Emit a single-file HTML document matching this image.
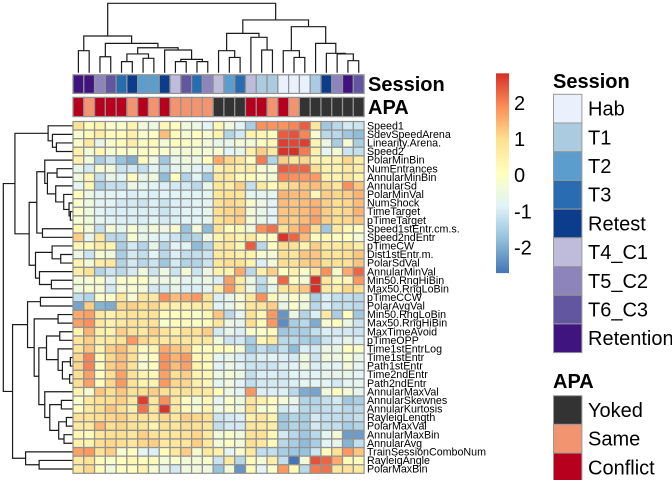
<!DOCTYPE html>
<html lang="en">
<head>
<meta charset="utf-8">
<title>Clustered heatmap</title>
<style>
html,body{margin:0;padding:0;background:#fff;width:672px;height:480px;overflow:hidden}
svg{display:block;font-family:"Liberation Sans",Arial,sans-serif}
.row-label{font-size:10.7px;fill:#000}
.legend-text{font-size:20px;fill:#000}
.legend-title{font-size:20px;font-weight:bold;fill:#000}
</style>
</head>
<body>
<svg id="chart" width="672" height="480" viewBox="0 0 672 480" xmlns="http://www.w3.org/2000/svg">
  <g id="col-dendro"></g>
  <g id="row-dendro"></g>
  <g id="annotations"></g>
  <text class="legend-title" x="368" y="91">Session</text>
  <text class="legend-title" x="368" y="114">APA</text>
  <g id="heatmap"></g>
  <g id="row-labels"></g>
  <g id="colorbar"></g>
  <text class="legend-title" x="553" y="88">Session</text>
  <g id="session-legend"></g>
  <text class="legend-title" x="553" y="388">APA</text>
  <g id="apa-legend"></g>
</svg>
<script>
const rowLabels = ["Speed1","SdevSpeedArena","Linearity.Arena.","Speed2","PolarMinBin","NumEntrances","AnnularMinBin","AnnularSd","PolarMinVal","NumShock","TimeTarget","pTimeTarget","Speed1stEntr.cm.s.","Speed2ndEntr","pTimeCW","Dist1stEntr.m.","PolarSdVal","AnnularMinVal","Min50.RngHiBin","Max50.RngLoBin","pTimeCCW","PolarAvgVal","Min50.RngLoBin","Max50.RngHiBin","MaxTimeAvoid","pTimeOPP","Time1stEntrLog","Time1stEntr","Path1stEntr","Time2ndEntr","Path2ndEntr","AnnularMaxVal","AnnularSkewnes","AnnularKurtosis","RayleigLength","PolarMaxVal","AnnularMaxBin","AnnularAvg","TrainSessionComboNum","RayleigAngle","PolarMaxBin"];
const sessionByColumn = ["Retention","Retention","T5_C2","T6_C3","T3","Retest","T2","T2","Retest","T4_C1","T6_C3","T3","T5_C2","T4_C1","T2","T3","T4_C1","T1","T1","Hab","Hab","Hab","T1","Retest","T5_C2","Retention","T6_C3"];
const apaByColumn = ["Conflict","Same","Conflict","Conflict","Conflict","Same","Conflict","Same","Conflict","Same","Same","Same","Same","Yoked","Yoked","Yoked","Conflict","Conflict","Same","Conflict","Same","Yoked","Yoked","Yoked","Yoked","Yoked","Yoked"];
const sessionLevels = ["Hab","T1","T2","T3","Retest","T4_C1","T5_C2","T6_C3","Retention"];
const sessionColors = ["#ebf0fd","#abcce0","#5b9ecd","#2a6cb0","#0b3d8c","#bfbcdb","#8d84bb","#61569f","#3f147f"];
const apaLevels = ["Yoked","Same","Conflict"];
const apaColors = ["#333333","#f1946f","#b7001e"];
const scaleTicks = [2,1,0,-1,-2];
const scaleMin = -2.69;
const scaleMax = 2.84;
const scaleColors = ["#4575b4","#91bfdb","#e0f3f8","#ffffbf","#fee090","#fc8d59","#d73027"];
const heatValues = [
[.9,.2,.4,-.1,-.15,.4,-.4,-.5,.3,.1,-.4,-.5,-.8,.3,-.4,-.8,-1.5,1.9,1.85,1.85,2,2.4,.8,-1.6,-1.3,-1,-1.1],
[-.2,.2,.6,.2,.2,.5,-.2,0,1.4,.2,-.2,.1,-.2,.4,-1.4,-1,.4,.3,.1,2.4,2.5,2,-.2,-1.3,-1.3,-1.6,-1.8],
[-.1,.7,-.6,-.1,.2,.6,0,.2,-.3,.1,0,-.1,-.3,-.6,-.6,-.3,-.3,.1,.3,2.7,2.6,2.7,.4,-.5,-1.5,-.3,-1.5],
[.5,-.3,.3,-.2,-.1,-.1,0,0,-.2,-.3,-.3,-.2,-.3,-.2,-.8,-.6,.5,1.2,.7,2.8,2.84,2.1,.5,-.7,-.3,-1.1,-1.2],
[.5,-.4,-1.5,-1.1,-1.7,-2,.1,-.5,-1.6,-.6,-.4,-.5,.1,1.6,1.1,.8,.1,2.1,-1.4,1.2,.8,1.1,.4,.4,.5,1.1,.6],
[-.6,-1,-.2,-.4,-1.1,-1,-1.2,-.8,-1.2,-.7,-.6,-.8,-.9,.5,.7,.5,.6,-.2,-.3,2.4,2.3,2.3,1,.5,.4,.7,.6],
[-.4,.3,-1.2,-.6,-.8,.2,-.6,-.4,-1.8,.1,-1.4,-.8,-1.6,.7,.7,.2,.2,-.1,-.3,2,1.9,1.8,1.8,.5,.4,.7,.4],
[-.7,.3,-1.5,-1.2,-1.2,-.5,-.7,-.8,-.9,-1,-1,-1.3,-.6,.8,.6,1.2,-1.2,.7,.2,.8,1.1,1.3,1.4,1.1,.8,1.9,1.3],
[.1,-.5,-.8,-.8,-.8,-.9,-.8,-.9,-.8,-.8,-.8,-.8,-.7,.8,.9,.8,-.7,-.7,-.7,1.5,1.4,1.4,.3,1.2,1.1,1.2,1.5],
[-.1,-.4,-.8,-.8,-1,-1,-1.1,-.9,-1.1,-.9,-.9,-.8,-.8,.9,1.1,1,-.2,-.5,-.8,1.4,1.3,1.4,1.5,1.2,1,1.1,1.4],
[-.1,-.4,-.8,-.9,-.9,-.9,-.9,-.9,-1.1,-.9,-.8,-.8,-.7,1,1.1,1.2,-.3,-.6,-.8,1.3,1.3,1.4,1.6,1.2,1,1.1,1.5],
[-.2,-.4,-.7,-.8,-.9,-.9,-.9,-.8,-1,-.9,-.8,-.8,-.7,.9,1.1,1.2,-.3,-.6,-.8,1.3,1.2,1.4,1.7,1.2,1,1.1,1.3],
[.3,-.3,-1.2,-.3,-.7,-.2,-.6,-.3,-.5,-.2,-1.7,-.3,-1.8,.9,.2,.3,-.4,1.9,2.2,.9,1.4,1.8,1,-1.6,.7,.3,.1],
[1.2,-.7,.8,-1.3,-1.3,-.2,-.6,-.8,-.9,-1.1,-1.5,-1.4,-.5,.4,.7,.4,.7,.1,.1,2.8,2.3,1.4,.1,.3,.1,.1,-.3],
[.3,.2,.6,.4,-1.5,-1,-1.4,-.6,-1.4,-.8,-.8,-1.8,-1.4,.7,.8,.3,2.4,-1.3,0,1,.9,.4,1.2,.7,.7,.9,.6],
[-.5,-1.1,-.2,-.4,-1.5,-1,-1.2,-.8,-1.3,-.9,-1.2,-1.2,-1.1,.7,.7,.5,.4,-.2,-.3,1,.8,1.3,1.3,.9,.8,1,1.3],
[.4,-.3,.6,.7,-1.4,-1,-1.3,-1.1,-1.6,-1,-1.4,-1.4,-1.1,.8,1,.9,.4,-.9,-.3,1,.9,1.2,1.3,1,.9,.9,1.3],
[.6,.9,-1.4,-1.1,-1.3,-1,-.4,-1.1,-.5,-1.1,-.3,-1.1,-.5,.5,.4,1.6,-1.3,.5,1.2,.1,.5,-.1,.8,1.9,-.1,1.6,2.3],
[-.3,-.2,-.1,-.8,-.1,-.1,0,-.5,-.5,-.5,-.7,-.7,-.5,-.9,1.7,.6,-.5,-1.2,-.3,2.3,.1,-.3,2.84,.8,.3,.3,1.8],
[-.4,-.2,-.3,-1,-.3,-.2,-.3,-1,-1,-.6,-.9,-.9,-.7,.6,1.8,.8,-.5,-1.4,-.6,.8,1,1.3,2.84,.7,.5,1.1,1],
[-1.2,-1.4,-.1,-.1,.8,-.2,.8,.7,1.9,1.4,1.6,1.8,1,-.9,-.6,-.2,.7,1.9,.3,-.4,-.1,-.3,-1.5,-.9,-1.2,-1.2,-1.3],
[-2.1,1.2,-1.9,-2,1.1,1.2,1,1.1,.7,.5,.5,.6,.7,-.8,-.6,-.2,.8,.8,1.2,-.6,-.1,-.4,-1.3,-.9,-1.2,-1.2,-1.3],
[1.6,1.7,.7,.4,.8,.9,.8,.9,.2,.1,.2,-.1,.3,1.3,-1.3,-.7,.9,.3,1.8,-2.3,-.5,-1.4,-.9,.7,-1.5,.1,-1.6],
[1.7,1.9,.7,.4,.7,.9,.8,.9,-.1,.2,.2,0,.2,.8,-.5,-.7,1,.2,1.8,-2.4,-1.5,-1.3,-2,-.2,.1,-.5,-1.1],
[.4,1.5,.5,.4,1.2,.9,.7,1.2,.9,.5,1,.9,1.2,-1,-.6,-.9,-.1,-.1,.2,-1.6,-1.5,-1.5,-1.2,-.9,-1,-1,-1.1],
[.8,1.2,.6,.7,.9,1.8,1.1,.9,.7,.8,.8,.7,.8,-.4,-1.1,-1,-1.5,.3,.7,-1.3,-1.3,-1.5,-1.6,-1.1,-.9,-.6,-.9],
[.8,1.3,.4,1.2,1.4,.9,.1,.4,1.6,1.3,1.2,.2,.1,.2,.1,-.3,-1.6,-1.2,-1.5,-1.2,-1.8,-.9,-1,-.5,-.6,.1,-.1],
[1.1,2,.2,1.1,1.4,1,-.1,.1,1.9,1.5,1.8,.3,.3,-.7,-.6,-.9,-1.1,-.9,-.8,-.9,-1,-.4,-1.1,-.4,-.5,-.2,-.6],
[1.1,2,.1,1.2,1.4,.9,-.2,.1,1.9,1.4,1.7,.4,.2,-.8,-.5,-.8,-1.1,-1.1,-1.1,-.9,-.8,-.5,-.9,-.7,-.8,-.3,-.7],
[1,1.7,.1,1,1.7,.9,.4,.3,1.7,1,1.2,.4,.3,-.5,-.3,-.5,-1.2,-.9,-.9,-1,-.8,-.8,-.8,-.6,-.6,-.6,-.8],
[1,1.7,.1,1.1,1.8,.9,.4,.4,1.8,1.1,1.1,.5,.3,-.7,-.4,-.8,-1.2,-1,-1,-1,-.9,-.7,-.8,-.8,-1,-.7,-.7],
[.4,-.2,1.3,1,1.3,.9,1,1.2,1,.8,.9,.7,.7,.2,-.5,-.8,1.8,-.9,-.9,-.9,-1.3,-2,-2.1,-.4,.1,-.3,-.7],
[-.1,.7,.9,1,1.2,.7,2.7,.8,1.9,.7,.1,-.3,.3,-.7,-.1,-.4,.8,.5,.1,-.3,-.6,-1.4,-1.4,-1.2,-1,-1.6,-1.5],
[.1,.7,1,1.3,1,.5,2.2,.8,2.8,.7,.2,-.2,.4,-.5,-.2,-.4,.9,-.2,-.1,-1,-.9,-1.3,-1.3,-1.2,-1.1,-1.3,-1.3],
[.9,.9,1,1.1,1.2,.9,.9,.8,1.1,.8,1.2,1.1,1,-1.1,-1,-.9,.5,.8,.4,-1.6,-1.4,-1.5,-1,-1.2,-1.2,-1.3,-1.2],
[.7,.7,1.5,1,1.1,.9,.8,.4,.9,.8,1,.9,.8,-1.2,-1,-1,.8,.7,.6,-1.6,-1.4,-1.5,-1,-1.2,-1.2,-1.5,-1.4],
[.3,.1,.8,1,1,.8,1.2,.9,.8,.8,.9,1.1,.7,-.4,-.1,-.4,.9,.9,.3,-1,-1.3,-1.6,-1.3,-.7,-.3,-2.2,-2.2],
[.5,.4,1,1.1,1,.8,1.1,1.2,.7,.8,.8,1.2,.7,-.3,0,-.3,1,.7,.2,-1.3,-1.5,-1.8,-1.5,-.8,-.6,-1.9,-1.2],
[1.7,1.8,.9,1.2,-.2,.1,-.7,-.9,.2,.7,1.2,-.2,.7,.5,-.7,-.2,.7,-1.2,-1.2,-1.5,-1.6,-1.7,-1.1,.2,.9,1.8,1.3],
[.7,.9,.2,-.1,.1,.3,.1,.2,-.3,-.1,-.3,-.3,-.1,-1.1,.7,-1.3,.2,-.3,.6,-1.2,-2.69,-.3,2.5,2.3,1.6,.2,.2],
[.7,1.1,.2,-.4,.1,.1,.4,-.2,-.6,-1,-.4,-.4,-.4,-1.7,-.3,-2.3,.2,-.8,-.1,1.8,.3,-1.3,2.1,2.2,.8,.9,.7]
];
// Dendrograms: [height, firstChild, secondChild]; 0 marks a leaf, leaves read in display order.
const colTree = [100,
  [52.9,
    [31.7,0,0],
    [42.3,
      [23,0,0],
      [36,
        [27,[16,0,0],[20.7,0,0]],
        [32.7,0,[19.2,[16,0,0],[16,0,0]]]
      ]
    ]
  ],
  [76,
    [56.7,
      [31.7,0,[22,0,0]],
      [51,0,[32.7,0,0]]
    ],
    [66.3,
      [31.7,0,[22,0,0]],
      [42.3,0,[27.9,0,[27,0,[17.3,0,0]]]]
    ]
  ]
];
const rowTree = [100,
  [83.3,
    [35.7,0,[29.5,0,[23.8,0,0]]],
    [62.9,
      [51.9,
        [40.5,0,[36.7,[22.9,0,0],[24.8,0,[13.3,0,[5.7,0,[3.8,0,0]]]]]],
        [43.8,0,0]
      ],
      [53.8,
        [30,0,[17.6,0,0]],
        [48.1,0,[31,0,0]]
      ]
    ]
  ],
  [86.7,
    [65.2,
      [46.7,0,0],
      [55.7,
        [21.4,0,0],
        [49,
          [38,[19,0,0],[21.4,0,[15.2,[3.8,0,0],[4.8,0,0]]]],
          [40.5,0,[33.3,[16.7,0,0],[20.5,[9.5,0,0],[12.9,0,0]]]]
        ]
      ]
    ],
    [68,0,[48.6,0,0]]
  ]
];

const NS = "http://www.w3.org/2000/svg";
const plotLeft = 73, plotRight = 364.1, plotTop = 121.5, plotBottom = 473.3;
const colStep = (plotRight - plotLeft) / sessionByColumn.length;
const rowStep = (plotBottom - plotTop) / rowLabels.length;
function xOfCol(c){ return plotLeft + c * colStep; }
function yOfRow(r){ return plotTop + r * rowStep; }
function hexRgb(h){ return [1,3,5].map(function(i){ return parseInt(h.substr(i,2),16); }); }
function colorOf(v){
  var t = Math.max(0, Math.min(1, (v - scaleMin) / (scaleMax - scaleMin))) * (scaleColors.length - 1);
  var i = Math.min(Math.floor(t), scaleColors.length - 2), f = t - i;
  var a = hexRgb(scaleColors[i]), b = hexRgb(scaleColors[i + 1]);
  return "rgb(" + a.map(function(x, k){ return Math.round(x + (b[k] - x) * f); }).join(",") + ")";
}
function mk(tag, parent, attrs){
  var el = document.createElementNS(NS, tag);
  for (var k in attrs) el.setAttribute(k, attrs[k]);
  parent.appendChild(el);
  return el;
}

// heatmap cells
var heatG = document.getElementById("heatmap");
heatValues.forEach(function(row, r){
  row.forEach(function(v, c){
    var cell = mk("rect", heatG, {x:xOfCol(c), y:yOfRow(r), width:colStep, height:rowStep, fill:colorOf(v), stroke:"#929292", "stroke-width":1.25});
    
    
  });
});

// row labels
var labelG = document.getElementById("row-labels");
rowLabels.forEach(function(name, r){
  var t = mk("text", labelG, {x:367, y:yOfRow(r) + rowStep / 2 + 3.6, "class":"row-label"});
  t.textContent = name;
  
  
});

// column annotations
var annG = document.getElementById("annotations");
sessionByColumn.forEach(function(s, c){
  var a = mk("rect", annG, {x:xOfCol(c), y:74.8, width:colStep, height:18.6, fill:sessionColors[sessionLevels.indexOf(s)], stroke:"#929292", "stroke-width":1.25});
  
  
});
apaByColumn.forEach(function(s, c){
  var a = mk("rect", annG, {x:xOfCol(c), y:97.4, width:colStep, height:19.2, fill:apaColors[apaLevels.indexOf(s)], stroke:"#929292", "stroke-width":1.25});
  
  
});

// dendrograms
function drawTree(node, counter, posOf, heightPos, parent, horizontal){
  if (node === 0) { var i = counter.n++; return {p:posOf(i), h:heightPos(0)}; }
  var a = drawTree(node[1], counter, posOf, heightPos, parent, horizontal);
  var b = drawTree(node[2], counter, posOf, heightPos, parent, horizontal);
  var h = heightPos(node[0]);
  var d = horizontal
    ? "M"+a.h+" "+a.p+"H"+h+"V"+b.p+"H"+b.h
    : "M"+a.p+" "+a.h+"V"+h+"H"+b.p+"V"+b.h;
  var line = mk("path", parent, {d:d, fill:"none", stroke:"#1a1a1a", "stroke-width":1.2});
  
  
  return {p:(a.p + b.p) / 2, h:h};
}
drawTree(colTree, {n:0}, function(i){ return xOfCol(i + .5); }, function(h){ return 72.7 - h / 100 * (72.7 - 3.3); }, document.getElementById("col-dendro"), false);
drawTree(rowTree, {n:0}, function(i){ return yOfRow(i + .5); }, function(h){ return 73 - h / 100 * (73 - 3.3); }, document.getElementById("row-dendro"), true);

// colour scale
var barG = document.getElementById("colorbar");
var barTop = 73.3, barBottom = 272.7, barSteps = 100;
function yOfScale(v){ return barTop + (scaleMax - v) / (scaleMax - scaleMin) * (barBottom - barTop); }
for (var s = 0; s < barSteps; s++) {
  var val = scaleMax - (s + .5) / barSteps * (scaleMax - scaleMin);
  var seg = mk("rect", barG, {x:496, y:barTop + s * (barBottom - barTop) / barSteps, width:13, height:(barBottom - barTop) / barSteps + .4, fill:colorOf(val)});
  
  
}
scaleTicks.forEach(function(v){
  var t = mk("text", barG, {x:514, y:yOfScale(v) + 6.5, "class":"legend-text"});
  t.textContent = String(v);
  
  
});

// discrete legends
function drawLegend(groupId, levels, colors, top){
  var g = document.getElementById(groupId);
  levels.forEach(function(name, i){
    var y = top + i * 28.7;
    var sw = mk("rect", g, {x:553.5, y:y, width:28.4, height:28.7, fill:colors[i], stroke:"#999999", "stroke-width":1});
    
    
    var t = mk("text", g, {x:588, y:y + 21.3, "class":"legend-text"});
    t.textContent = name;
    
    
  });
}
drawLegend("session-legend", sessionLevels, sessionColors, 94.3);
drawLegend("apa-legend", apaLevels, apaColors, 395.7);
</script>
</body>
</html>
